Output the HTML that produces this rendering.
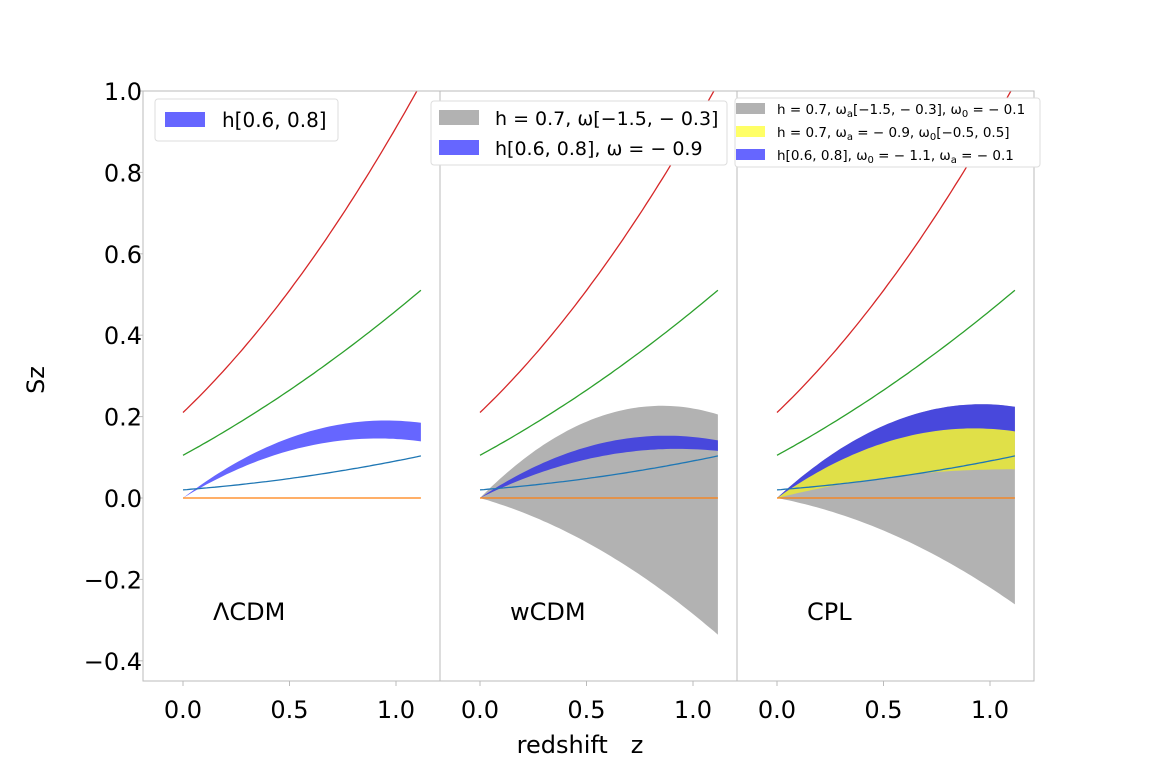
<!DOCTYPE html><html><head><style>body{margin:0;background:#fff}svg text{font-family:"DejaVu Sans","Liberation Sans",sans-serif}</style></head><body>
<svg id="s" width="1149" height="766" xmlns="http://www.w3.org/2000/svg"></svg>
<script>
const s=document.getElementById('s');let h='';
const X=(z,o)=>183+o+z*213, Y=v=>498-v*407;
const Z=1.117,N=60;
function line(f,o,c){let d='';for(let i=0;i<=N;i++){const z=Z*i/N;d+=(i?'L':'M')+X(z,o).toFixed(1)+','+Y(f(z)).toFixed(1);}h+=`<path d="${d}" fill="none" stroke="${c}" stroke-width="1.3"/>`;}
function band(u,l,o,c){let d='';for(let i=0;i<=N;i++){const z=Z*i/N;d+=(i?'L':'M')+X(z,o).toFixed(1)+','+Y(u(z)).toFixed(1);}for(let i=N;i>=0;i--){const z=Z*i/N;d+='L'+X(z,o).toFixed(1)+','+Y(l(z)).toFixed(1);}h+=`<path d="${d}Z" fill="${c}"/>`;}
h+='<defs><clipPath id="c"><rect x="143" y="91" width="891" height="590"/></clipPath></defs><g clip-path="url(#c)">';
for(let p=0;p<3;p++){const o=p*297;
if(p==1){band(z=>0.53*z-0.31*z*z,z=>-0.15*z-0.135*z*z,o,'#b2b2b2');band(z=>0.35*z-0.2*z*z,z=>0.26*z-0.14*z*z,o,'#4848dc');}
if(p==2){band(z=>0.48*z-0.25*z*z,z=>-0.1*z-0.12*z*z,o,'#b2b2b2');band(z=>0.37*z-0.2*z*z,z=>0.13*z-0.06*z*z,o,'#e0e048');band(z=>0.48*z-0.25*z*z,z=>0.37*z-0.2*z*z,o,'#4848dc');}
if(p==0)band(z=>0.4*z-0.21*z*z,z=>0.32*z-0.175*z*z,o,'#6666ff');
line(z=>0.21+0.5*z+0.2*z*z,o,'#d62728');line(z=>0.105+0.285*z+0.07*z*z,o,'#2ca02c');line(z=>0.02+0.04*z+0.031*z*z,o,'#1f77b4');line(z=>0,o,'#ff7f0e');}
h+='</g>';
for(let p=0;p<3;p++){const x0=143+p*297;h+=`<rect x="${x0}" y="91" width="297" height="590" fill="none" stroke="#bbb" stroke-width="1"/>`;
[0,0.5,1].forEach(z=>{const x=X(z,p*297);h+=`<line x1="${x}" y1="681" x2="${x}" y2="686" stroke="#bbb"/><text x="${x}" y="718" font-size="24" text-anchor="middle">${z.toFixed(1)}</text>`;});}
[1,0.8,0.6,0.4,0.2,0,-0.2,-0.4].forEach(v=>{const y=Y(v);h+=`<line x1="138" y1="${y}" x2="143" y2="${y}" stroke="#bbb"/><text x="142" y="${y+9}" font-size="24" text-anchor="end">${v<0?'−'+(-v).toFixed(1):v.toFixed(1)}</text>`;});
h+=`<text x="44" y="380" font-size="24" text-anchor="middle" transform="rotate(-90 44 380)">Sz</text>
<text x="580" y="753" font-size="24" text-anchor="middle" xml:space="preserve">redshift   z</text>
<text x="213" y="620" font-size="24">ΛCDM</text><text x="510" y="620" font-size="24">wCDM</text><text x="807" y="620" font-size="24">CPL</text>
<rect x="155" y="99" width="183" height="42" rx="3" fill="#fff" stroke="#ddd"/><rect x="165" y="112" width="40" height="15" fill="#6666ff"/><text x="222" y="127" font-size="20">h[0.6, 0.8]</text>
<rect x="431" y="101" width="296" height="64" rx="3" fill="#fff" stroke="#ddd"/><rect x="439" y="110" width="40" height="15" fill="#b2b2b2"/><text x="495" y="125" font-size="19">h = 0.7, ω[−1.5, − 0.3]</text>
<rect x="439" y="140" width="40" height="15" fill="#6666ff"/><text x="495" y="155" font-size="19">h[0.6, 0.8], ω = − 0.9</text>
<rect x="735" y="98" width="305" height="69" rx="3" fill="#fff" stroke="#ddd"/>
<rect x="736" y="103" width="29" height="11" fill="#b2b2b2"/><text x="777" y="114" font-size="13.5">h = 0.7, ω<tspan font-size="10" dy="3">a</tspan><tspan dy="-3">[−1.5, − 0.3], ω</tspan><tspan font-size="10" dy="3">0</tspan><tspan dy="-3"> = − 0.1</tspan></text>
<rect x="736" y="126" width="29" height="11" fill="#ffff66"/><text x="777" y="137" font-size="13.5">h = 0.7, ω<tspan font-size="10" dy="3">a</tspan><tspan dy="-3"> = − 0.9, ω</tspan><tspan font-size="10" dy="3">0</tspan><tspan dy="-3">[−0.5, 0.5]</tspan></text>
<rect x="736" y="149" width="29" height="11" fill="#6666ff"/><text x="777" y="160" font-size="13.5">h[0.6, 0.8], ω<tspan font-size="10" dy="3">0</tspan><tspan dy="-3"> = − 1.1, ω</tspan><tspan font-size="10" dy="3">a</tspan><tspan dy="-3"> = − 0.1</tspan></text>`;
s.innerHTML=h;
</script></body></html>
